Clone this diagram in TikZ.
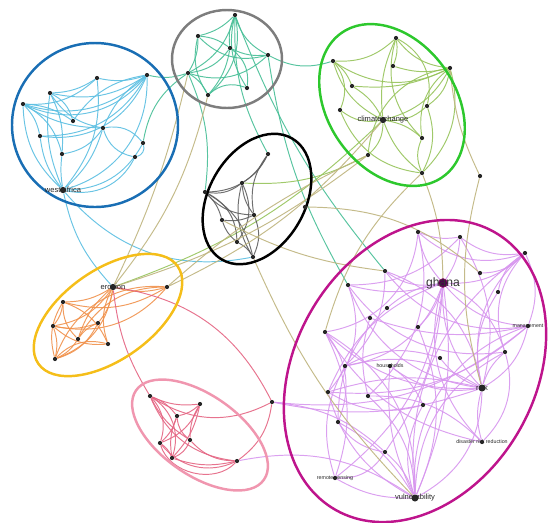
\documentclass[tikz,border=0pt]{standalone}
\usepackage{fontspec}
\setmainfont{Liberation Sans}
\definecolor{ringBlue}{RGB}{25,110,180}
\definecolor{ringGray}{RGB}{125,125,125}
\definecolor{ringGreen}{RGB}{45,200,45}
\definecolor{ringOrange}{RGB}{245,190,25}
\definecolor{ringPink}{RGB}{240,150,175}
\definecolor{ringMagenta}{RGB}{190,20,140}
\definecolor{edgeBlue}{RGB}{90,190,225}
\definecolor{edgeTeal}{RGB}{70,190,150}
\definecolor{edgeGreen}{RGB}{150,195,90}
\definecolor{edgeBlack}{RGB}{95,95,95}
\definecolor{edgeOrange}{RGB}{240,145,75}
\definecolor{edgePink}{RGB}{228,100,130}
\definecolor{edgeViolet}{RGB}{215,150,238}
\definecolor{edgeTan}{RGB}{190,180,125}
\pgfdeclarelayer{bg}
\pgfsetlayers{bg,main}
\tikzset{
  vtx/.style={circle,fill=black!85,inner sep=0pt,minimum size=2.4pt},
  hub/.style={vtx,minimum size=3.6pt},
  bigtext/.style={font=\fontsize{6.9}{7}\selectfont,text=black!80},
  midtext/.style={font=\fontsize{4.3}{5}\selectfont,text=black!85},
  smalltext/.style={font=\fontsize{3}{3.5}\selectfont,text=black!85},
  ring/.style={line width=1.4pt},
  link/.style={line width=0.55pt,opacity=0.9},
}
\begin{document}
\begin{tikzpicture}[x=0.02cm,y=-0.02cm]
  \useasboundingbox (0,0) rectangle (550,522);
  % blue cluster
  \foreach \n/\x/\y in {b1/97/78,b2/147/75,b3/50/93,b4/23/104,b5/73/121,b6/103/128,
      b7/40/136,b8/143/143,b9/62/154,b10/135/157}
    \node[vtx] (\n) at (\x,\y) {};
  \node[hub,label={[midtext]center:west africa}] (bw) at (63,190) {};
  % gray cluster
  \foreach \n/\x/\y in {g1/235/15,g2/198/36,g3/230/48,g4/268/55,g5/188/73,g6/247/88,g7/208/95}
    \node[vtx] (\n) at (\x,\y) {};
  % green cluster
  \foreach \n/\x/\y in {c1/396/38,c2/333/61,c3/450/68,c4/393/66,c5/352/86,c6/427/106,
      c7/340/110,c8/422/138,c9/368/155,c10/422/173,c11/480/176}
    \node[vtx] (\n) at (\x,\y) {};
  \node[hub,label={[midtext]center:climate change}] (cc) at (383,120) {};
  % black cluster
  \foreach \n/\x/\y in {k1/268/154,k2/242/183,k3/205/192,k4/254/215,k5/222/220,
      k6/237/242,k7/253/257,k8/305/207}
    \node[vtx] (\n) at (\x,\y) {};
  % orange cluster
  \foreach \n/\x/\y in {o1/167/287,o2/63/302,o3/98/323,o4/53/326,o5/78/339,o6/108/344,o7/55/359}
    \node[vtx] (\n) at (\x,\y) {};
  \node[hub,label={[midtext]center:erosion}] (oe) at (113,287) {};
  % pink cluster
  \foreach \n/\x/\y in {p1/150/396,p2/200/404,p3/177/416,p4/160/443,p5/190/440,
      p6/172/458,p7/237/461,p8/272/402}
    \node[vtx] (\n) at (\x,\y) {};
  % magenta cluster
  \foreach \n/\x/\y in {m1/418/232,m2/460/237,m3/525/253,m4/385/271,m5/480/273,m6/348/285,
      m7/498/292,m8/387/308,m9/370/318,m10/418/327,m11/325/332,m12/505/352,m13/440/358,
      m14/345/366,m15/328/392,m16/368/396,m17/423/405,m18/338/422,m19/385/452}
    \node[vtx] (\n) at (\x,\y) {};
  \node[hub,minimum size=5pt,draw=ringMagenta!70!black,fill=violet!60!black,
    label={[bigtext]center:ghana}] (mg) at (443,283) {};
  \node[hub,minimum size=4pt,label={[midtext]center:risk}] (mr) at (482,388) {};
  \node[hub,minimum size=4pt,label={[midtext]center:vulnerability}] (mv) at (415,498) {};
  \node[vtx,label={[smalltext]center:management}] (mm) at (528,326) {};
  \node[vtx,label={[smalltext]center:households}] (mh) at (390,366) {};
  \node[vtx,label={[smalltext]center:disaster risk reduction}] (md) at (482,442) {};
  \node[vtx,label={[smalltext]center:remote sensing}] (ms) at (335,478) {};

  \begin{pgfonlayer}{bg}
    % links inside the clusters
    \foreach \a/\b/\t [evaluate=\t as \tb using 1.5*\t] in {bw/b2/-25,bw/b1/-15,bw/b3/10,
        bw/b4/15,bw/b6/-10,bw/b7/10,bw/b9/5,
        bw/b8/-20,bw/b10/-25,b2/b4/20,b2/b3/15,b2/b6/-10,b2/b7/25,b1/b3/10,b1/b4/15,b3/b6/-15,
        b3/b9/10,b4/b6/-10,b4/b7/10,b4/b9/15,b5/b4/-10,b5/b2/15,b6/b10/-20,b6/b8/20,b7/b2/-20,
        b8/b10/30,b9/b6/-15,b1/b2/-10,b3/b5/15,b4/b2/-25,bw/oe/-10,bw/k7/-20}
      \draw[link,edgeBlue] (\a) to[bend left=\tb] (\b);
    \foreach \a/\b/\t [evaluate=\t as \tb using 1.5*\t] in {g1/g2/10,g1/g3/-10,g1/g5/15,
        g1/g6/-15,g1/g7/20,g1/g4/-15,g2/g5/10,
        g2/g7/-15,g2/g3/10,g3/g5/15,g3/g4/-10,g3/g6/20,g5/g4/-20,g5/g7/10,g6/g7/-20,g2/g4/-20,
        g3/g7/10,g1/k1/-10,g4/m6/-7,g1/m4/-6,g4/c2/-15,g5/b2/10,g5/b8/-15,g5/k3/10}
      \draw[link,edgeTeal] (\a) to[bend left=\tb] (\b);
    \foreach \a/\b/\t [evaluate=\t as \tb using 1.5*\t] in {cc/c2/15,cc/c3/-15,cc/c1/10,
        cc/c5/-10,cc/c7/15,cc/c6/-15,cc/c8/10,
        cc/c9/15,cc/c10/-10,c2/c1/-15,c2/c3/-20,c2/c5/10,c1/c3/-15,c1/c4/10,c3/c6/15,c3/c8/-20,
        c3/c10/20,c3/c9/-25,c1/c8/-20,c2/c7/20,c4/c3/-10,c6/c10/15,c8/c10/-15,c1/c6/25,
        c5/c3/-10,c7/c10/-20,cc/oe/8,c9/k2/10}
      \draw[link,edgeGreen] (\a) to[bend left=\tb] (\b);
    \foreach \a/\b/\t [evaluate=\t as \tb using 1.5*\t] in {k1/k3/20,k1/k4/-15,k1/k2/10,
        k2/k3/15,k2/k4/-10,k2/k6/20,k2/k7/-15,
        k3/k4/-15,k3/k5/10,k3/k6/20,k4/k5/10,k4/k7/15,k5/k6/-10,k6/k7/10,k3/k7/15}
      \draw[link,edgeBlack] (\a) to[bend left=\tb] (\b);
    \foreach \a/\b/\t [evaluate=\t as \tb using 1.5*\t] in {oe/o1/-10,oe/o2/10,oe/o3/10,
        oe/o4/15,oe/o5/-10,oe/o6/-15,oe/o7/20,
        o1/o2/15,o1/o4/20,o2/o4/10,o2/o5/-15,o2/o7/-15,o2/o6/15,o4/o7/10,o4/o6/-15,o3/o7/15,
        o3/o5/-10,o5/o7/10,o6/o7/-20,o1/o5/-20,o3/o4/10,o1/o7/-25}
      \draw[link,edgeOrange] (\a) to[bend left=\tb] (\b);
    \foreach \a/\b/\t [evaluate=\t as \tb using 1.5*\t] in {p1/p2/-10,p1/p3/10,p1/p4/20,
        p1/p5/-10,p1/p6/25,p1/p7/-20,p2/p4/15,
        p2/p5/-10,p2/p6/10,p3/p4/10,p3/p5/-15,p3/p6/-10,p4/p6/10,p5/p6/15,p4/p7/-25,p5/p7/-15,
        p6/p7/-10,p1/p8/-20,p2/p3/10,p4/p7/-40,oe/p1/-8,oe/p8/18,p7/p8/-15}
      \draw[link,edgePink] (\a) to[bend left=\tb] (\b);
    \foreach \a/\b/\t [evaluate=\t as \tb using 1.5*\t] in {mg/m1/10,mg/m2/-10,mg/m3/-15,
        mg/m4/15,mg/m6/10,mg/m8/-10,mg/m10/10,
        mg/mr/-15,mg/mv/10,mg/mm/-15,mg/m12/15,mg/m14/20,mg/m15/-15,mg/ms/15,mg/md/-20,
        mg/m19/10,mr/m3/20,mr/mm/-15,mr/m12/10,mr/m7/15,mr/md/-10,mr/mv/20,mr/m11/15,
        mr/m14/-15,mr/m6/20,mr/m2/-15,mr/m13/10,mr/m4/-20,mr/m15/-10,mr/mh/15,mv/m15/15,
        mv/m18/-10,mv/ms/10,mv/m19/-10,mv/m17/15,mv/m10/-15,mv/mh/10,mv/m16/-15,mv/mm/25,
        mv/m12/20,mv/m3/20,mv/m11/-20,m3/mm/15,m3/m12/-20,m3/m5/15,m3/m7/-15,m2/m1/10,
        m2/m3/-15,m11/m18/20,m11/ms/15,m14/ms/-15,m6/m15/20,m15/m17/-15,m16/md/15,m18/m19/-15,
        ms/m19/-20,m4/m14/15,m9/m16/-10,mh/m17/10,m12/md/20,mm/m15/15,m1/m16/20,m8/m18/-15,
        m1/m3/-20,m4/mm/-20,m6/m12/-20,m11/md/-15,m14/m13/15,m9/mm/-10,m1/m11/25,m2/m6/15,
        p8/mr/-10,p8/m19/12,p8/mm/-15,p7/mv/15}
      \draw[link,edgeViolet] (\a) to[bend left=\tb] (\b);
    % links between the clusters
    \foreach \a/\b/\t in {c9/oe/10,o1/cc/-12,o1/c9/8,c10/mg/10,c3/c11/-10,c11/mr/-15,
        k7/mv/-10,k8/m5/20,c10/m11/-15,k5/m4/-10,g7/oe/12,g5/oe/6}
      \draw[link,edgeTan] (\a) to[bend left=\t] (\b);
    % the seven clusters
    \draw[ring,ringBlue] (95,125) ellipse [x radius=83,y radius=82];
    \draw[ring,ringGray] (227,59) ellipse [x radius=55,y radius=49];
    \draw[ring,ringGreen,rotate around={-55:(392,105)}] (392,105) ellipse [x radius=88,y radius=64];
    \draw[ring,black,rotate around={60:(257,199)}] (257,199) ellipse [x radius=70,y radius=48];
    \draw[ring,ringOrange,rotate around={35:(108,315)}] (108,315) ellipse [x radius=85,y radius=45];
    \draw[ring,ringPink,rotate around={-35:(200,435)}] (200,435) ellipse [x radius=78,y radius=40];
    \draw[ring,ringMagenta,rotate around={60:(415,371)}] (415,371) ellipse [x radius=160,y radius=120];
  \end{pgfonlayer}
\end{tikzpicture}
\end{document}
